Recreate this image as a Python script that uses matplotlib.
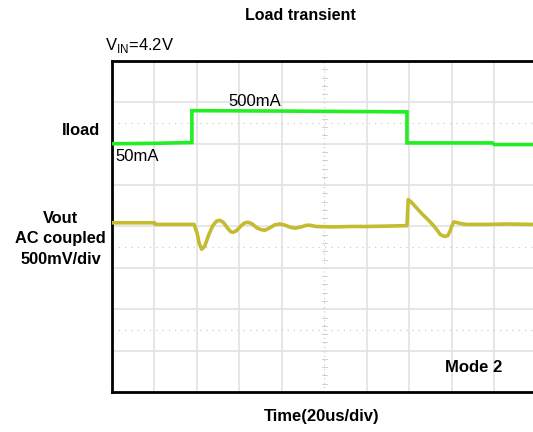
import matplotlib
matplotlib.use("Agg")
import matplotlib.pyplot as plt

plt.rcParams['font.family'] = ['Liberation Sans', 'DejaVu Sans']
plt.rcParams['mathtext.fontset'] = 'custom'
plt.rcParams['mathtext.rm'] = 'Liberation Sans'

# scope traces in divisions (x: 20us/div, y: 8 div tall)
iload_t = [0, 1.0, 1.88, 1.88, 4.0, 6.94, 6.94, 8.95, 9.0, 9.92]
iload_v = [6.0, 6.01, 6.03, 6.8, 6.79, 6.77, 6.02, 6.02, 5.98, 5.98]

vout_t = [0, 1.0, 1.02, 1.93, 2.0, 2.05, 2.11, 2.18, 2.27, 2.37, 2.46, 2.54, 2.62,
          2.72, 2.8, 2.85, 2.93, 3.05, 3.13, 3.21, 3.3, 3.42, 3.52, 3.6, 3.7, 3.83,
          3.95, 4.05, 4.2, 4.31, 4.45, 4.58, 4.66, 4.8, 5.2, 5.6, 6.0, 6.5, 6.94,
          6.97, 7.05, 7.13, 7.3, 7.45, 7.56, 7.66, 7.72, 7.8, 7.84, 7.9, 7.95, 8.0,
          8.04, 8.1, 8.2, 8.35, 8.8, 9.3, 9.92]
vout_v = [4.09, 4.09, 4.05, 4.05, 3.85, 3.6, 3.45, 3.52, 3.78, 4.02, 4.13, 4.15, 4.1,
          3.96, 3.87, 3.86, 3.9, 4.03, 4.09, 4.1, 4.06, 3.96, 3.92, 3.91, 3.96, 4.04,
          4.06, 4.04, 3.98, 3.96, 3.99, 4.03, 4.03, 4.0, 3.99, 4.0, 4.0, 4.01, 4.02,
          4.65, 4.58, 4.49, 4.3, 4.15, 4.03, 3.9, 3.81, 3.77, 3.76, 3.78, 3.88, 4.02,
          4.11, 4.1, 4.07, 4.05, 4.05, 4.06, 4.05]

fig = plt.figure(figsize=(5.33, 4.32), dpi=100)
ax = fig.add_axes([0.2101, 0.0926, 0.7899, 0.7662])
ax.set_xlim(0, 9.906)
ax.set_ylim(0, 8)

# graticule
for gx in range(1, 10):
    if gx == 5:
        ax.axvline(gx, color='#c8c8c8', lw=0.8, ls=(0, (1, 3)), zorder=1)
        for ty in [i * 0.2 for i in range(41)]:
            ax.plot([gx - 0.05, gx + 0.05], [ty, ty], color='#c8c8c8', lw=0.6, zorder=1)
    else:
        ax.axvline(gx, color='#e2e2e2', lw=1.2, zorder=1)
for gy in range(1, 8):
    ax.axhline(gy, color='#e2e2e2', lw=1.2, zorder=1)
for gy in [1.5, 3.5, 6.5]:
    ax.axhline(gy, color='#cfcfcf', lw=0.9, ls=(0, (1, 4)), zorder=1)

ax.plot(iload_t, iload_v, color='#22ee22', lw=2.6, zorder=3, solid_joinstyle='miter')
ax.plot(vout_t, vout_v, color='#c4bb30', lw=2.6, zorder=3, solid_joinstyle='round')

for s in ['left', 'top', 'bottom']:
    ax.spines[s].set_linewidth(2.0)
ax.spines['right'].set_visible(False)
ax.set_xticks([])
ax.set_yticks([])

ax.text(2.75, 6.91, '500mA', fontsize=12, ha='left', va='baseline')
ax.text(0.07, 5.58, '50mA', fontsize=12, ha='left', va='baseline')
ax.text(7.84, 0.6, 'Mode 2', fontsize=12, fontweight='bold', ha='left', va='center')

fig.text(0.563, 0.963, 'Load transient', fontsize=11.5, fontweight='bold', ha='center', va='center')
fig.text(0.197, 0.895, r'V$_{\mathregular{IN}}$=4.2V', fontsize=12, ha='left', va='center')
fig.text(0.188, 0.697, 'Iload', fontsize=11.8, fontweight='bold', ha='right', va='center')
fig.text(0.114, 0.447, 'Vout\nAC coupled\n500mV/div', fontsize=11.8, fontweight='bold',
         ha='center', va='center', linespacing=1.45)
fig.text(0.604, 0.035, 'Time(20us/div)', fontsize=12, fontweight='bold', ha='center', va='center')

fig.savefig('out.png', dpi=100)
